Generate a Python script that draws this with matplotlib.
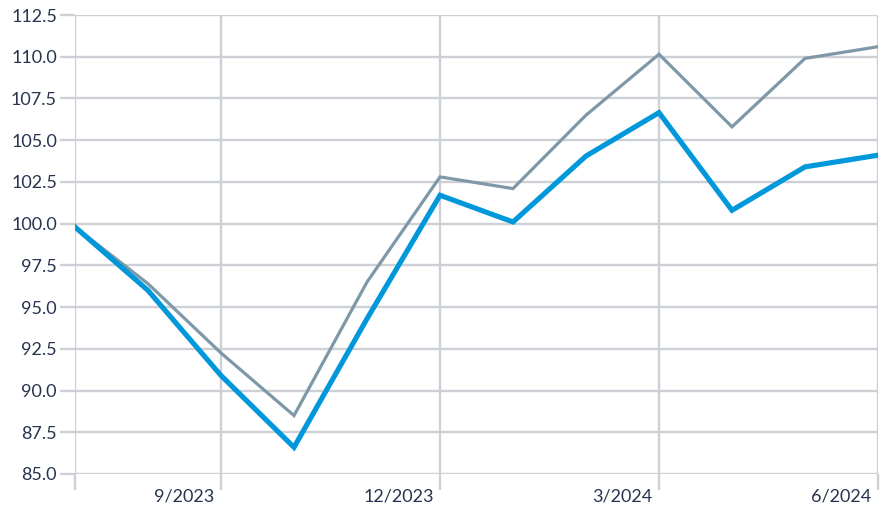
import matplotlib.pyplot as plt

months = ['7/2023', '8/2023', '9/2023', '10/2023', '11/2023', '12/2023',
          '1/2024', '2/2024', '3/2024', '4/2024', '5/2024', '6/2024']
blue_vals = [99.8, 96.0, 90.9, 86.6, 94.3, 101.7, 100.1, 104.05, 106.65, 100.8, 103.4, 104.1]
gray_vals = [99.8, 96.4, 92.25, 88.5, 96.5, 102.8, 102.1, 106.5, 110.15, 105.8, 109.9, 110.6]
tick_months = ['7/2023', '9/2023', '12/2023', '3/2024', '6/2024']
label_months = ['9/2023', '12/2023', '3/2024', '6/2024']
y_ticks = [85.0 + 2.5 * i for i in range(12)]

text_col = '#27334f'
grid_col = '#cdd0d5'

plt.rcParams['font.family'] = ['Lato', 'DejaVu Sans']

fig = plt.figure(figsize=(8.87, 5.12), dpi=100)
ax = fig.add_axes([75 / 887, 1 - 474 / 512, 803 / 887, 459 / 512])

x = list(range(len(months)))
ax.plot(x, gray_vals, color='#7f98a8', lw=2.3, solid_joinstyle='miter', zorder=3)
ax.plot(x, blue_vals, color='#0098da', lw=3.7, solid_joinstyle='miter', zorder=4)

ax.set_xlim(0, len(months) - 1)
ax.set_ylim(85, 112.5)
ax.set_yticks(y_ticks)
ax.set_yticklabels(['%.1f' % v for v in y_ticks])

ax.set_xticks([months.index(m) for m in tick_months])
ax.set_xticklabels([])
# month labels sit to the left of their gridline
for m in label_months:
    ax.annotate(m, xy=(months.index(m), 0), xycoords=('data', 'axes fraction'),
                xytext=(-4.5, -10.5), textcoords='offset points',
                ha='right', va='top', fontsize=13, color=text_col,
                annotation_clip=False)

ax.grid(True, color=grid_col, lw=1.7)
ax.set_axisbelow(True)
for s in ax.spines.values():
    s.set_visible(False)
ax.tick_params(axis='y', length=11, width=1.7, color=grid_col, pad=2,
               labelsize=13, labelcolor=text_col)
ax.tick_params(axis='x', length=11.5, width=1.7, color=grid_col)

fig.savefig('out.png', dpi=100)
